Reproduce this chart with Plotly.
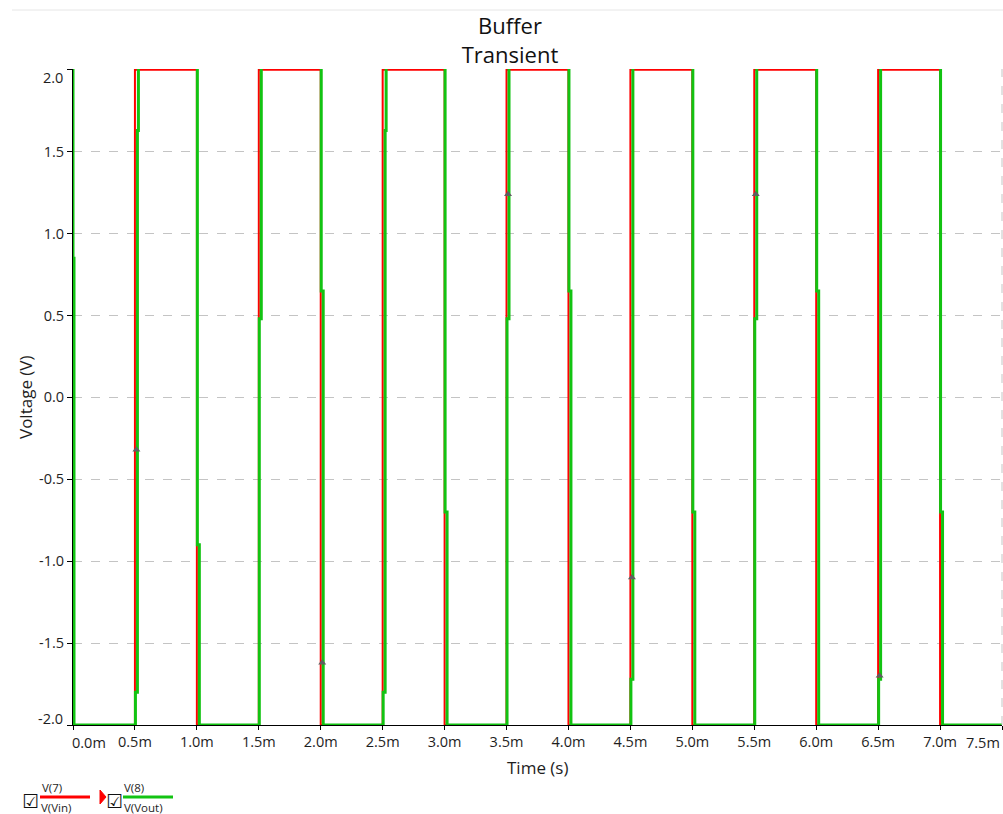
import plotly.graph_objects as go

# ---- data (time in ms, voltage in V) ----
t_vin = [0.0, 0.5, 0.5, 1.0, 1.0, 1.5, 1.5, 2.0, 2.0, 2.5, 2.5, 3.0, 3.0, 3.5, 3.5,
         4.0, 4.0, 4.5, 4.5, 5.0, 5.0, 5.5, 5.5, 6.0, 6.0, 6.5, 6.5, 7.0, 7.0, 7.5]
v_vin = [-2.0, -2.0, 2.0, 2.0, -2.0, -2.0, 2.0, 2.0, -2.0, -2.0, 2.0, 2.0, -2.0, -2.0, 2.0,
         2.0, -2.0, -2.0, 2.0, 2.0, -2.0, -2.0, 2.0, 2.0, -2.0, -2.0, 2.0, 2.0, -2.0, -2.0]

t_vout = [0.0, 0.0, 0.008, 0.008,
          0.504, 0.504, 0.520, 0.520, 0.528, 0.528,
          1.004, 1.004, 1.020, 1.020,
          1.504, 1.504, 1.520, 1.520,
          2.004, 2.004, 2.020, 2.020,
          2.504, 2.504, 2.520, 2.520, 2.528, 2.528,
          3.004, 3.004, 3.020, 3.020,
          3.504, 3.504, 3.520, 3.520,
          4.004, 4.004, 4.020, 4.020,
          4.504, 4.504, 4.520, 4.520,
          5.004, 5.004, 5.020, 5.020,
          5.504, 5.504, 5.520, 5.520,
          6.004, 6.004, 6.020, 6.020,
          6.504, 6.504, 6.520, 6.520,
          7.004, 7.004, 7.020, 7.020,
          7.5]
v_vout = [2.03, 0.85, 0.85, -2.0,
          -2.0, -1.8, -1.8, 1.63, 1.63, 2.03,
          2.03, -0.9, -0.9, -2.0,
          -2.0, 0.48, 0.48, 2.03,
          2.03, 0.65, 0.65, -2.0,
          -2.0, -1.8, -1.8, 1.63, 1.63, 2.03,
          2.03, -0.7, -0.7, -2.0,
          -2.0, 0.48, 0.48, 2.03,
          2.03, 0.65, 0.65, -2.0,
          -2.0, -1.72, -1.72, 2.03,
          2.03, -0.7, -0.7, -2.0,
          -2.0, 0.48, 0.48, 2.03,
          2.03, 0.65, 0.65, -2.0,
          -2.0, -1.72, -1.72, 2.03,
          2.03, -0.7, -0.7, -2.0,
          -2.0]

t_marks = [0.512, 2.012, 3.512, 4.512, 5.512, 6.512]
v_marks = [-0.32, -1.62, 1.24, -1.1, 1.24, -1.7]

# tick labels; the end labels of each axis are drawn nudged inward (as in the original)
x_tickvals = [0.0, 0.5, 1.0, 1.5, 2.0, 2.5, 3.0, 3.5, 4.0, 4.5, 5.0, 5.5, 6.0, 6.5, 7.0, 7.5]
x_ticktext = ["", "0.5m", "1.0m", "1.5m", "2.0m", "2.5m", "3.0m", "3.5m", "4.0m",
              "4.5m", "5.0m", "5.5m", "6.0m", "6.5m", "7.0m", ""]
x_first_label, x_last_label = "0.0m", "7.5m"
y_tickvals = [-2.0, -1.5, -1.0, -0.5, 0.0, 0.5, 1.0, 1.5, 2.0]
y_ticktext = ["", "-1.5", "-1.0", "-0.5", "0.0", "0.5", "1.0", "1.5", ""]
y_bottom_label, y_top_label = "-2.0", "2.0"

FONT = "Open Sans, Noto Sans, sans-serif"
RED = "#ff0000"
GREEN = "#12c312"
TXT = "#1e1e1e"
TICK_SIZE = 14.5

W, H = 1003, 814
L, R, T, B = 73, 1, 69, 89
PW, PH = W - L - R, H - T - B


def px(x):
    return (x - L) / PW


def py(y):
    return (H - B - y) / PH


fig = go.Figure()
fig.add_trace(go.Scatter(x=t_vin, y=v_vin, mode="lines", name="V(Vin)",
                         line=dict(color=RED, width=2), hoverinfo="skip"))
fig.add_trace(go.Scatter(x=t_vout, y=v_vout, mode="lines", name="V(Vout)",
                         line=dict(color=GREEN, width=3), hoverinfo="skip"))
fig.add_trace(go.Scatter(x=t_marks, y=v_marks, mode="markers", showlegend=False,
                         marker=dict(symbol="triangle-up", size=7, color="#5f5f5f"),
                         hoverinfo="skip"))

fig.update_layout(
    width=W, height=H,
    margin=dict(l=L, r=R, t=T, b=B),
    paper_bgcolor="white", plot_bgcolor="white",
    showlegend=False,
    font=dict(family=FONT, color=TXT),
    title=dict(text="Buffer<br>Transient", x=510 / W, xanchor="center", xref="container",
               y=1 - 34 / H, yanchor="middle", yref="container",
               font=dict(size=22, color="#111111", family=FONT)),
)

fig.update_xaxes(range=[0, 7.5], tickmode="array", tickvals=x_tickvals, ticktext=x_ticktext,
                 showgrid=False, zeroline=False, showline=True, linecolor="black",
                 linewidth=1, ticks="outside", ticklen=4, tickcolor="black",
                 tickfont=dict(size=TICK_SIZE, family=FONT, color=TXT))
fig.update_yaxes(range=[-2.0, 2.005], tickmode="array", tickvals=y_tickvals, ticktext=y_ticktext,
                 showgrid=True, gridcolor="#c4c4c4", griddash="dash", gridwidth=1,
                 zeroline=False, showline=True, linecolor="black", linewidth=1,
                 ticks="outside", ticklen=5, tickcolor="black",
                 tickfont=dict(size=TICK_SIZE, family=FONT, color=TXT))

shapes = [
    # window top border
    dict(type="line", xref="paper", yref="paper", x0=px(12), x1=px(1003), y0=py(10), y1=py(10),
         line=dict(color="#e6e6e6", width=1)),
    # right dashed border
    dict(type="line", xref="paper", yref="paper", x0=1, x1=1, y0=0, y1=1,
         line=dict(color="#c4c4c4", width=1, dash="dash")),
    # legend lines
    dict(type="line", xref="paper", yref="paper", x0=px(40), x1=px(90), y0=py(797), y1=py(797),
         line=dict(color=RED, width=3)),
    dict(type="line", xref="paper", yref="paper", x0=px(123), x1=px(173), y0=py(797), y1=py(797),
         line=dict(color=GREEN, width=3)),
    dict(type="path", xref="paper", yref="paper",
         path=f"M {px(100)},{py(790)} L {px(106)},{py(797)} L {px(100)},{py(804)} Z",
         fillcolor=RED, line=dict(color=RED, width=1)),
]
fig.update_layout(shapes=shapes)

tf = dict(size=TICK_SIZE, family=FONT, color=TXT)
ann = [
    dict(text="Voltage (V)", x=px(25), y=py(397), textangle=-90,
         font=dict(size=17, family=FONT, color=TXT)),
    dict(text="Time (s)", x=px(537), y=py(767),
         font=dict(size=17, family=FONT, color=TXT)),
    dict(text=x_first_label, x=px(70), y=py(742), xanchor="left", font=tf),
    dict(text=x_last_label, x=1.0, y=py(742), xanchor="right", font=tf),
    dict(text=y_top_label, x=px(65), y=py(77), xanchor="right", font=tf),
    dict(text=y_bottom_label, x=px(65), y=py(718), xanchor="right", font=tf),
    dict(text="☑", x=px(30), y=py(801), font=dict(size=19, family="DejaVu Sans", color="#111")),
    dict(text="☑", x=px(114), y=py(801), font=dict(size=19, family="DejaVu Sans", color="#111")),
    dict(text="V(7)", x=px(40), y=py(787), xanchor="left", font=dict(size=11.5, family=FONT, color=TXT)),
    dict(text="V(Vin)", x=px(39), y=py(807), xanchor="left", font=dict(size=11.5, family=FONT, color=TXT)),
    dict(text="V(8)", x=px(122), y=py(787), xanchor="left", font=dict(size=11.5, family=FONT, color=TXT)),
    dict(text="V(Vout)", x=px(122), y=py(807), xanchor="left", font=dict(size=11.5, family=FONT, color=TXT)),
]
for a in ann:
    a.setdefault("xanchor", "center")
    a.update(xref="paper", yref="paper", yanchor="middle", showarrow=False)
fig.update_layout(annotations=ann)

fig.write_html("out.html", config={"displayModeBar": False},
               post_script="document.body.style.margin='0';document.body.style.overflow='hidden';")
